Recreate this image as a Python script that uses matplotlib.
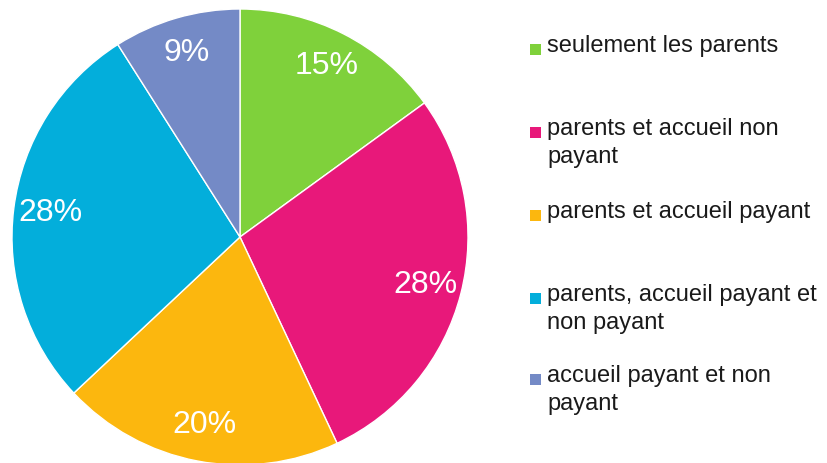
import matplotlib
matplotlib.use("Agg")
import matplotlib.pyplot as plt
from matplotlib.patches import Rectangle

plt.rcParams['font.family'] = ['Liberation Sans', 'DejaVu Sans']

categories = ["seulement les parents",
              "parents et accueil non\npayant",
              "parents et accueil payant",
              "parents, accueil payant et\nnon payant",
              "accueil payant et non\npayant"]
values = [15, 28, 20, 28, 9]
colors = ["#7FD13B", "#E8187A", "#FCB70E", "#03AEDB", "#748AC6"]

W, H = 828, 463
fig = plt.figure(figsize=(W/100, H/100), dpi=100)

cx, cy, r = 240, 237, 228
ax = fig.add_axes([(cx - r)/W, (H - cy - r)/H, 2*r/W, 2*r/H])
wedges, texts, autotexts = ax.pie(values, colors=colors, startangle=90, counterclock=False,
                                  autopct=lambda p: f"{p:.0f}%", pctdistance=0.84,
                                  wedgeprops=dict(edgecolor="white", linewidth=1),
                                  textprops=dict(color="white", fontsize=23))
ax.set_xlim(-1, 1)
ax.set_ylim(-1, 1)
ax.set_aspect('auto')
ax.axis('off')

# legend
ys = [49, 132, 215, 298, 379]
for lab, col, y in zip(categories, colors, ys):
    fig.patches.append(Rectangle((530/W, (H - y - 6)/H), 11/W, 11/H,
                                 transform=fig.transFigure, facecolor=col, edgecolor="none"))
    fig.text(547/W, (H - y + 14)/H, lab, fontsize=17, color="#1a1a1a", va="top",
             ha="left", linespacing=1.38, transform=fig.transFigure)

fig.savefig("out.png", dpi=100)
